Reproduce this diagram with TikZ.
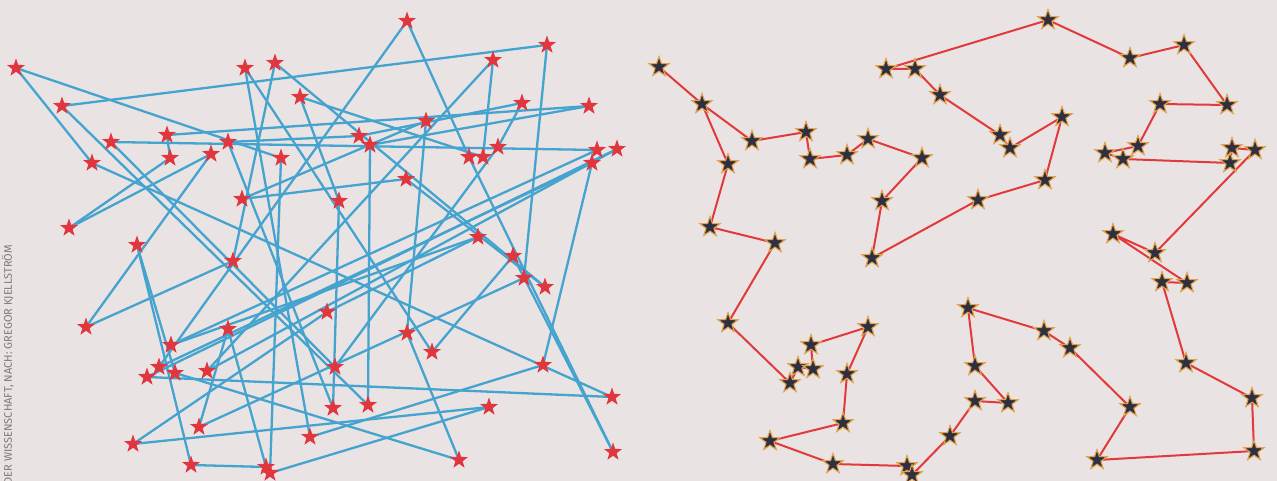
\documentclass[tikz,border=0pt]{standalone}
\usepackage{fontspec}
\newfontfamily\credfont{Fira Sans}
\usetikzlibrary{shapes.geometric}
\pgfdeclarelayer{bg}
\pgfsetlayers{bg,main}
\definecolor{paper}{HTML}{E9E3E3}
\definecolor{lineblue}{HTML}{45A3CF}
\definecolor{starred}{HTML}{E2363F}
\definecolor{linered}{HTML}{E23A3A}
\definecolor{stardark}{HTML}{2E3042}
\definecolor{staredge}{HTML}{E3A24C}
\definecolor{credgray}{HTML}{7C7A7C}
\begin{document}
\begin{tikzpicture}[x=1pt,y=-1pt,
  rs/.style={star, star points=5, star point ratio=2.5, minimum size=19pt, inner sep=0pt, fill=starred, draw=none},
  ds/.style={star, star points=5, star point ratio=2.5, minimum size=21pt, inner sep=0pt, fill=stardark, draw=staredge, line width=1.1pt},
  bl/.style={draw=lineblue, line width=2.3pt},
  rl/.style={draw=linered, line width=2pt, line join=round},
  cred/.style={text=credgray, font=\credfont\fontsize{11}{12}\selectfont, rotate=90, inner sep=0pt}]
\useasboundingbox (0,0) rectangle (1277,481);
% left stars
\foreach \n/\x/\y in {1/16/68,2/62/106,3/111/142,4/92/163,5/167/135,6/170/158,7/211/154,8/228/142,
  9/245/68,10/275/63,11/300/97,12/281/158,13/242/199,14/69/228,15/137/245,16/407/21,17/493/60,
  18/547/45,19/522/103,20/589/106,21/426/121,22/359/136,23/370/145,24/469/157,25/483/157,26/498/147,
  27/597/150,28/617/149,29/592/163,30/406/179,31/339/201,32/478/237,33/513/256,34/233/261,35/86/327,
  36/228/329,37/171/345,38/159/367,39/147/377,40/175/373,41/207/371,42/199/427,43/133/444,44/191/465,
  45/266/467,46/270/473,47/310/437,48/327/312,49/524/278,50/545/287,51/407/333,52/432/352,53/335/367,
  54/543/365,55/612/397,56/333/408,57/368/405,58/489/407,59/459/460,60/613/452}
  {\node[rs] (L\n) at (\x,\y) {};}
% right stars
\foreach \n/\x/\y in {1/659/67,2/702/104,3/752/141,4/728/164,5/710/227,6/775/243,7/806/132,8/810/159,
  9/847/155,10/868/139,11/922/158,12/882/201,13/886/69,14/915/69,15/940/95,16/1048/20,17/1130/58,
  18/1184/45,19/1227/105,20/1160/104,21/1138/146,22/1105/153,23/1123/159,24/1232/148,25/1255/150,
  26/1230/163,27/1113/234,28/1155/253,29/1000/135,30/1010/148,31/1062/117,32/1045/180,33/978/200,
  34/1162/282,35/1187/283,36/1186/363,37/1252/398,38/1254/451,39/1097/460,40/1130/407,41/1070/348,
  42/1044/331,43/968/308,44/975/366,45/975/401,46/1008/403,47/950/436,48/872/258,49/728/323,
  50/790/383,51/798/367,52/813/369,53/811/345,54/868/327,55/847/374,56/843/423,57/770/441,
  58/833/464,59/907/466,60/912/475}
  {\node[ds] (R\n) at (\x,\y) {};}
\node[cred, anchor=base east] (credit) at (12,245) {DER WISSENSCHAFT, NACH: GREGOR KJELLSTRÖM};
\begin{pgfonlayer}{bg}
\fill[paper] (0,0) rectangle (1277,481);
\foreach \a/\b in {1/4,1/12,2/18,2/57,3/27,3/53,4/55,5/20,5/6,6/14,7/14,7/35,15/44,35/34,34/10,
  13/30,13/21,29/54,29/38,28/39,28/41,27/37,39/55,36/42,36/45,44/45,42/49,49/18,43/48,43/58,
  58/46,48/32,32/37,47/54,47/9,60/24,60/33,33/52,52/9,16/24,16/38,17/25,11/31,31/56,40/59,
  59/51,51/21,8/56,8/22,53/26,26/19,19/22,23/20,23/57,10/50,11/25,12/46,17/41,30/50,40/15}
  {\draw[bl] (L\a.center) -- (L\b.center);}
\draw[rl] (R1.center)
  \foreach \k in {2,3,7,8,9,10,11,12,48,33,32,31,30,29,15,14,13,16,17,18,19,20,21,22,23,26,24,25,
    28,27,35,34,36,37,38,39,40,41,42,43,44,46,45,47,60,59,58,57,56,55,54,53,52,51,50,49,6,5,4,2}
  { -- (R\k.center)};
\end{pgfonlayer}
\end{tikzpicture}
\end{document}
